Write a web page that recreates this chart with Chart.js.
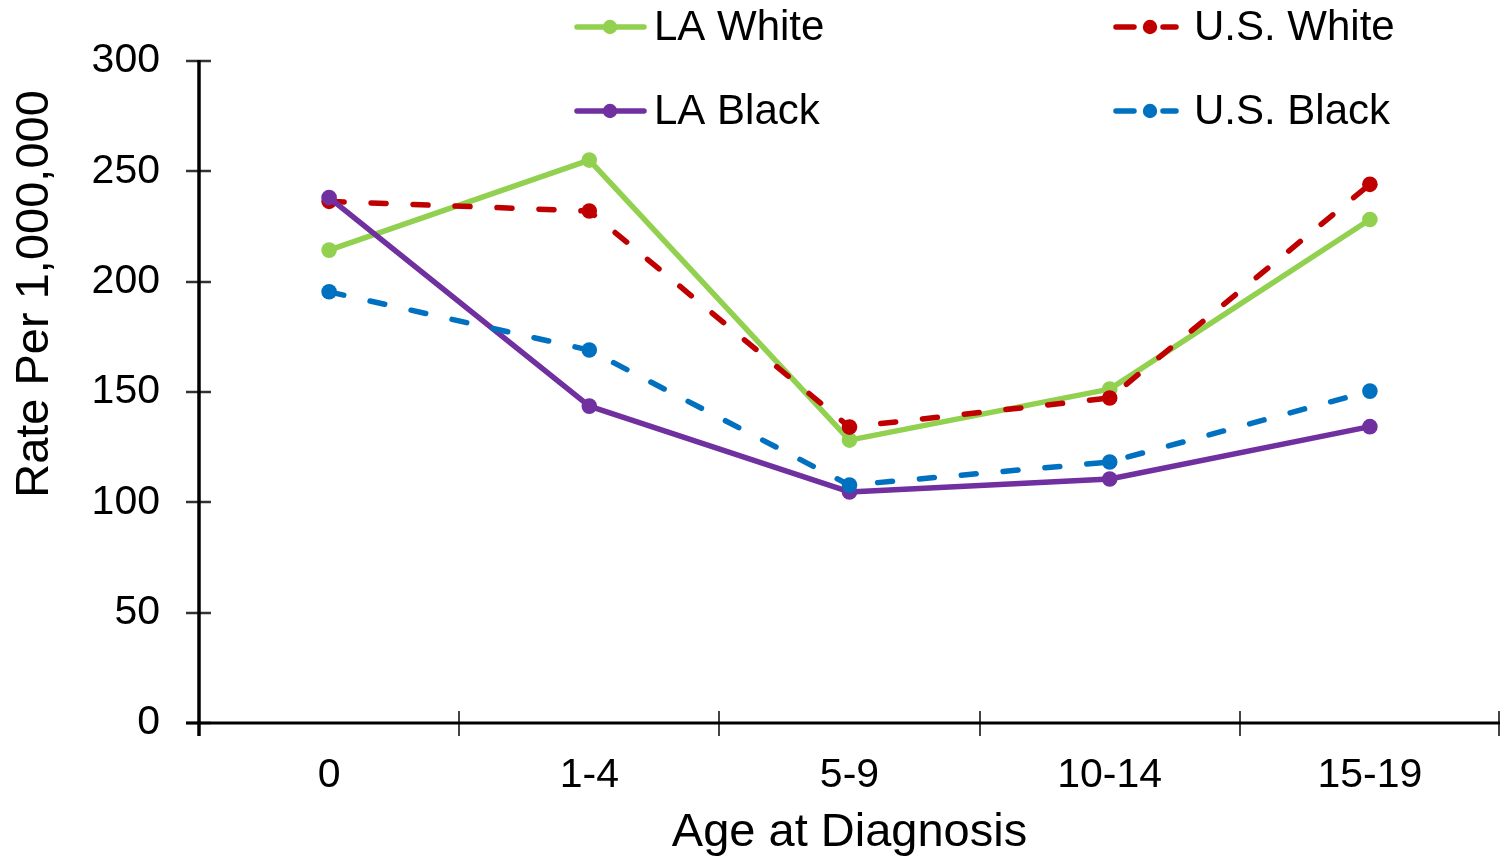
<!DOCTYPE html>
<html>
<head>
<meta charset="utf-8">
<script src="https://cdn.jsdelivr.net/npm/chart.js@4"></script>
<style>html,body{margin:0;padding:0;background:#fff;overflow:hidden}</style>
</head>
<body>
<canvas id="c" width="1503" height="859"></canvas>
<script>
const categories = ['0', '1-4', '5-9', '10-14', '15-19'];
const laWhite = [214.3, 255.1, 128.2, 151.3, 228.2];
const usWhite = [236.4, 232.0, 134.1, 147.3, 244.1];
const laBlack = [238.1, 143.6, 104.7, 110.6, 134.3];
const usBlack = [195.4, 169.0, 107.8, 118.3, 150.4];
const yTicks = [0, 50, 100, 150, 200, 250, 300];
const seriesNames = ['LA White', 'U.S. White', 'LA Black', 'U.S. Black'];
const xTitle = 'Age at Diagnosis';
const yTitle = 'Rate Per 1,000,000';

const FONT = '"Liberation Sans", Arial, sans-serif';
Chart.defaults.font.family = FONT;
Chart.defaults.color = '#000';

const colors = ['#92D050', '#C00000', '#7030A0', '#0070C0'];
const dashed = [false, true, false, true];
const values = [laWhite, usWhite, laBlack, usBlack];

const datasets = values.map((v, i) => ({
  label: seriesNames[i],
  data: v,
  borderColor: colors[i],
  backgroundColor: colors[i],
  borderWidth: 5.5,
  borderDash: dashed[i] ? [15, 27] : [],
  borderCapStyle: 'round',
  borderJoinStyle: 'round',
  pointRadius: 7.8,
  pointHoverRadius: 7.8,
  pointBorderWidth: 0,
  pointBackgroundColor: colors[i],
  tension: 0,
  fill: false,
  order: 3 - i
}));

const axisTicks = {
  id: 'axisTicks',
  afterDraw(chart) {
    const ctx = chart.ctx, xs = chart.scales.x, ys = chart.scales.y;
    const L = xs.left, R = xs.right, B = ys.bottom, T = ys.top;
    ctx.save();
    ctx.lineCap = 'butt';
    ctx.strokeStyle = '#333';
    ctx.lineWidth = 2.5;
    ys.ticks.forEach(t => {
      const py = Math.round(ys.getPixelForValue(t.value));
      ctx.beginPath();
      ctx.moveTo(L - 13, py);
      ctx.lineTo(L + 12, py);
      ctx.stroke();
    });
    ctx.lineWidth = 2;
    ctx.strokeStyle = '#444';
    for (let i = 0; i <= categories.length; i++) {
      const px = Math.min(Math.round(xs.getPixelForValue(i - 0.5)), R - 1);
      ctx.beginPath();
      ctx.moveTo(px, B - 12);
      ctx.lineTo(px, B + 13);
      ctx.stroke();
    }
    ctx.strokeStyle = '#000';
    ctx.lineWidth = 3.5;
    ctx.beginPath();
    ctx.moveTo(L, T - 1);
    ctx.lineTo(L, B + 13);
    ctx.stroke();
    ctx.lineWidth = 3;
    ctx.beginPath();
    ctx.moveTo(L - 13, B);
    ctx.lineTo(R, B);
    ctx.stroke();
    ctx.fillStyle = '#000';
    ctx.font = '47px ' + FONT;
    ctx.textAlign = 'center';
    ctx.textBaseline = 'middle';
    ctx.translate(35, 294);
    ctx.rotate(-Math.PI / 2);
    ctx.fillText(yTitle, 0, 0);
    ctx.restore();
  }
};

const customLegend = {
  id: 'customLegend',
  afterDraw(chart) {
    const ctx = chart.ctx;
    const spots = [[574, 27], [1113, 27], [574, 111], [1113, 111]];
    ctx.save();
    chart.data.datasets.forEach((ds, i) => {
      const [x, y] = spots[i];
      ctx.strokeStyle = ds.borderColor;
      ctx.fillStyle = ds.borderColor;
      ctx.lineWidth = ds.borderWidth;
      ctx.lineCap = 'round';
      ctx.beginPath();
      if (dashed[i]) {
        ctx.moveTo(x + 3, y); ctx.lineTo(x + 21, y);
        ctx.moveTo(x + 50, y); ctx.lineTo(x + 63, y);
      } else {
        ctx.moveTo(x + 3, y); ctx.lineTo(x + 70, y);
      }
      ctx.stroke();
      ctx.beginPath();
      ctx.arc(x + (dashed[i] ? 37 : 36), y, 7.2, 0, Math.PI * 2);
      ctx.fill();
      ctx.fillStyle = '#000';
      ctx.font = '42px ' + FONT;
      ctx.textAlign = 'left';
      ctx.textBaseline = 'middle';
      ctx.fillText(ds.label, x + (dashed[i] ? 81 : 80), y + 1);
    });
    ctx.restore();
  }
};

new Chart(document.getElementById('c'), {
  type: 'line',
  data: { labels: categories, datasets },
  plugins: [axisTicks, customLegend],
  options: {
    responsive: false,
    animation: false,
    devicePixelRatio: 1,
    layout: { autoPadding: false, padding: { top: 61, right: 3, left: 0, bottom: 0 } },
    plugins: { legend: { display: false }, tooltip: { enabled: false } },
    scales: {
      x: {
        type: 'category',
        offset: true,
        grid: { display: false, drawTicks: false },
        border: { display: false },
        ticks: { padding: 28, color: '#000', font: { size: 41 }, maxRotation: 0, autoSkip: false },
        title: { display: true, text: xTitle, color: '#000', font: { size: 47, lineHeight: 1.1 }, padding: { top: 0, bottom: 0 } },
        afterFit(s) { s.height = 136; s.paddingLeft = 0; s.paddingRight = 0; }
      },
      y: {
        min: 0,
        max: 300,
        afterBuildTicks(s) { s.ticks = yTicks.map(v => ({ value: v })); },
        grid: { display: false, drawTicks: false },
        border: { display: false },
        ticks: { padding: 39, color: '#000', font: { size: 41 } },
        afterFit(s) { s.width = 199; s.paddingTop = 0; s.paddingBottom = 0; }
      }
    }
  }
});
</script>
</body>
</html>
